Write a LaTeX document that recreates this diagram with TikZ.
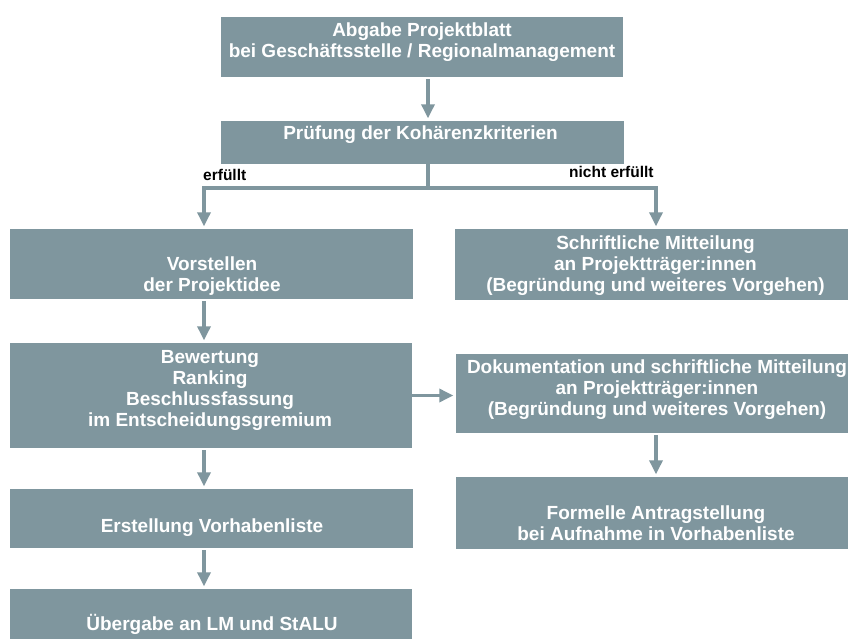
\documentclass[tikz,border=0pt]{standalone}
\usepackage{fontspec}
\setmainfont{Liberation Sans}
\usepackage{xcolor}
\usepackage{tikz}
\usetikzlibrary{calc,arrows.meta}
\definecolor{bg}{HTML}{FFFFFF}
\definecolor{boxfill}{HTML}{7F969E}
\definecolor{boxtext}{HTML}{FFFFFF}
\definecolor{labtext}{HTML}{000000}
\tikzset{
  ubox/.style={fill=boxfill, draw=none, inner sep=0pt},
  lab/.style={text=boxtext, font=\bfseries\fontsize{19}{21}\selectfont, align=center, inner sep=0pt, anchor=base},
  cond/.style={text=labtext, font=\bfseries\fontsize{15.5}{18}\selectfont, inner sep=0pt, anchor=base west},
  conn/.style={draw=boxfill, line width=3.3pt},
  arr/.style={conn, -{Triangle[width=13pt,length=14pt]}, shorten >=2.5pt}
}

\begin{document}
\begin{tikzpicture}[x=1pt, y=-1pt]
  \path[use as bounding box, fill=bg] (0,0) rectangle (848,639);
  \clip (0,0) rectangle (848,639);

  \coordinate (colL) at (204,0);
  \coordinate (colM) at (428,0);
  \coordinate (colR) at (656,0);
  \coordinate (split) at (428,188);

  % boxes
  \node[ubox, minimum width=402pt, minimum height=60pt] (abgabe) at (422,47) {};
  \node[ubox, minimum width=403pt, minimum height=43pt] (pruefung) at (422.5,142.5) {};
  \node[ubox, minimum width=403pt, minimum height=70pt] (vorstellen) at (211.5,264) {};
  \node[ubox, minimum width=401pt, minimum height=71pt] (mitteilung) at (655.5,264.5) {};
  \node[ubox, minimum width=402pt, minimum height=105pt] (bewertung) at (211,395.5) {};
  \node[ubox, minimum width=402pt, minimum height=79pt] (doku) at (657,393.5) {};
  \node[ubox, minimum width=403pt, minimum height=59pt] (erstellung) at (211.5,518.5) {};
  \node[ubox, minimum width=400pt, minimum height=72pt] (formelle) at (656,513) {};
  \node[ubox, minimum width=402pt, minimum height=60pt] (uebergabe) at (211,619) {};

  % texts (base = last line)
  \node[lab] (abgabeT) at ($(abgabe)+(0,11)$) {Abgabe Projektblatt\\bei Geschäftsstelle / Regionalmanagement};
  \node[lab] (pruefungT) at ($(pruefung)+(-2,-2.5)$) {Prüfung der Kohärenzkriterien};
  \node[lab] (vorstellenT) at ($(vorstellen)+(0.5,27)$) {Vorstellen\\der Projektidee};
  \node[lab] (mitteilungT) at ($(mitteilung)+(0,26.5)$) {Schriftliche Mitteilung\\an Projektträger:innen\\(Begründung und weiteres Vorgehen)};
  \node[lab] (bewertungT) at ($(bewertung)+(-1,30.5)$) {Bewertung\\Ranking\\Beschlussfassung\\im Entscheidungsgremium};
  \node[lab] (dokuT) at ($(doku)+(0,21.5)$) {Dokumentation und schriftliche Mitteilung\\an Projektträger:innen\\(Begründung und weiteres Vorgehen)};
  \node[lab] (erstellungT) at ($(erstellung)+(0.5,13.5)$) {Erstellung Vorhabenliste};
  \node[lab] (formelleT) at ($(formelle)+(0,27)$) {Formelle Antragstellung\\bei Aufnahme in Vorhabenliste};
  \node[lab] (uebergabeT) at ($(uebergabe)+(1,11)$) {Übergabe an LM und StALU};

  \node[cond] (erf) at (203,181) {erfüllt};
  \node[cond] (nerf) at (569,178) {nicht erfüllt};

  % connectors
  \draw[arr, shorten <=2pt] (abgabe.south -| colM) -- (pruefung.north -| colM);
  \draw[conn] (pruefung.south -| colM) -- (split);
  \draw[arr] (split) -| (vorstellen.north -| colL);
  \draw[arr] (split) -| (mitteilung.north -| colR);
  \draw[arr, shorten <=2pt] (vorstellen.south -| colL) -- (bewertung.north -| colL);
  \draw[arr] (bewertung.east) -- (bewertung.east -| doku.west);
  \draw[arr, shorten <=2pt] (bewertung.south -| colL) -- (erstellung.north -| colL);
  \draw[arr, shorten <=2pt] (erstellung.south -| colL) -- (uebergabe.north -| colL);
  \draw[arr, shorten <=2pt] (doku.south -| colR) -- (formelle.north -| colR);
\end{tikzpicture}
\end{document}
